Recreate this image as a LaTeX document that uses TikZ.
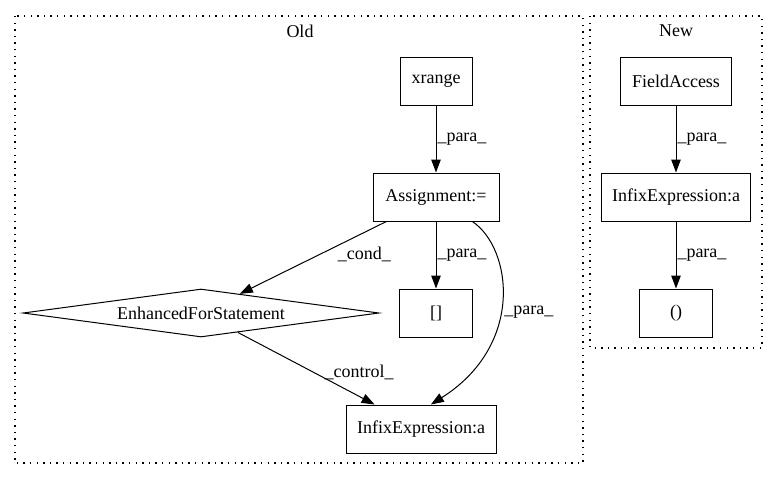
\documentclass[tikz,border=0pt]{standalone}
\usepackage{fontspec}
\setmainfont{Liberation Serif}
\usetikzlibrary{arrows.meta,shapes.geometric}

\tikzset{
	box/.style={draw, line width=1pt, rectangle, minimum height=48pt, inner sep=0pt, font=\fontsize{18}{21}\selectfont},
	diam/.style={draw, line width=1pt, diamond, aspect=7.4, minimum width=356pt, minimum height=48pt, inner sep=0pt, font=\fontsize{18}{21}\selectfont},
	lbl/.style={inner sep=1pt, font=\fontsize{18}{21}\selectfont},
	arr/.style={line width=1pt, -{Triangle[length=13pt,width=9.5pt]}},
	cluster/.style={line width=1.2pt, dash pattern=on 1.4pt off 5.2pt}
}

\begin{document}
\begin{tikzpicture}[x=1pt, y=-1pt]
		%%%%% START %%%%%
		\useasboundingbox (0, 0) rectangle (777, 480);
		
		\draw[cluster] (15, 16) rectangle (583, 463);
		\node[lbl] (old) at (300, 31) {Old};
		\draw[cluster] (590, 16) rectangle (762, 348);
		\node[lbl] (new) at (676, 31) {New};
		
		\node[box, minimum width=72pt] (xrange) at (436, 81) {xrange};
		\node[box, minimum width=126pt] (assign) at (436, 197) {Assignment:=};
		\node[diam] (efs) at (201, 313) {EnhancedForStatement};
		\node[box, minimum width=73pt] (brk) at (436, 313) {[]};
		\node[box, minimum width=150pt] (infixA) at (421, 429) {InfixExpression:a};
		
		\node[box, minimum width=111pt] (field) at (676, 81) {FieldAccess};
		\node[box, minimum width=149pt] (infixB) at (676, 197) {InfixExpression:a};
		\node[box, minimum width=73pt] (paren) at (676, 313) {()};
		
		\draw[arr] (xrange) -- node[lbl, anchor=west] {\_para\_} (assign);
		\draw[arr] (assign) -- node[lbl, pos=0.45, anchor=west, xshift=16pt] {\_cond\_} (efs);
		\draw[arr] (assign) -- node[lbl, anchor=west] {\_para\_} (brk);
		\draw[arr] (assign.-34) .. controls (512, 248) and (525, 345) .. node[lbl, anchor=west, xshift=1pt, yshift=-12pt] {\_para\_} (infixA.68);
		\draw[arr] (efs) -- node[lbl, pos=0.55, anchor=west, xshift=10pt] {\_control\_} (infixA);
		
		\draw[arr] (field) -- node[lbl, anchor=west] {\_para\_} (infixB);
		\draw[arr] (infixB) -- node[lbl, anchor=west] {\_para\_} (paren);
		%%%%% END %%%%%
\end{tikzpicture}
\end{document}
